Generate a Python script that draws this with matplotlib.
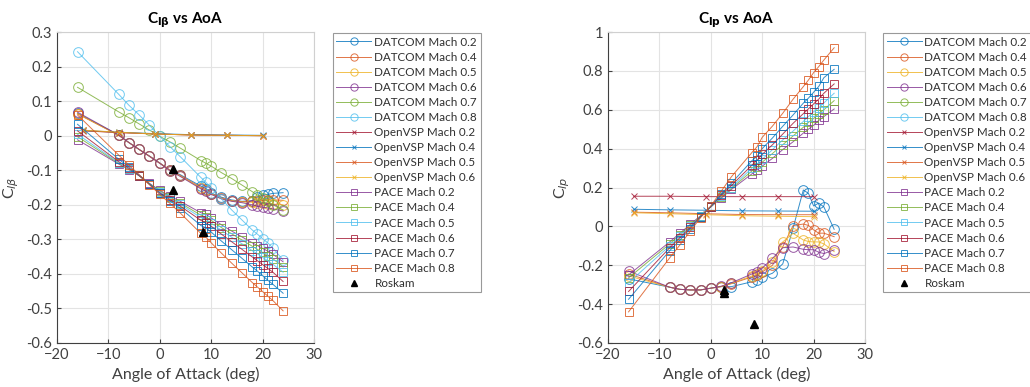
import numpy as np
import matplotlib
matplotlib.use("Agg")
import matplotlib.pyplot as plt

plt.rcParams['font.family'] = ['Lato', 'DejaVu Sans']
plt.rcParams['mathtext.fontset'] = 'dejavusans'

# angle of attack breakpoints
aoa = [-16, -8, -6, -4, -2, 0, 2, 4, 8, 9, 10, 12, 14, 16, 18, 19, 20, 21, 22, 24]
aoa_vsp = [-15, -8, -1, 6, 13, 20]
aoa_roskam = [2.5, 2.5, 8.5]

datcom_labels = ['DATCOM Mach 0.2', 'DATCOM Mach 0.4', 'DATCOM Mach 0.5',
                 'DATCOM Mach 0.6', 'DATCOM Mach 0.7', 'DATCOM Mach 0.8']
vsp_labels = ['OpenVSP Mach 0.2', 'OpenVSP Mach 0.4', 'OpenVSP Mach 0.5', 'OpenVSP Mach 0.6']
pace_labels = ['PACE Mach 0.2', 'PACE Mach 0.4', 'PACE Mach 0.5',
               'PACE Mach 0.6', 'PACE Mach 0.7', 'PACE Mach 0.8']

# ---- C_l_beta ----
clb_datcom = [
    [0.065, 0.002, -0.020, -0.040, -0.059, -0.079, -0.100, -0.113, -0.146, -0.153, -0.166, -0.178, -0.186, -0.190, -0.188, -0.178, -0.172, -0.170, -0.167, -0.165],
    [0.063, 0.001, -0.020, -0.040, -0.059, -0.079, -0.100, -0.115, -0.150, -0.156, -0.168, -0.180, -0.188, -0.191, -0.190, -0.188, -0.187, -0.186, -0.186, -0.187],
    [0.064, 0.001, -0.020, -0.040, -0.060, -0.080, -0.101, -0.117, -0.152, -0.157, -0.169, -0.182, -0.189, -0.192, -0.193, -0.195, -0.196, -0.197, -0.198, -0.200],
    [0.068, 0.002, -0.020, -0.040, -0.060, -0.080, -0.102, -0.118, -0.154, -0.160, -0.170, -0.183, -0.190, -0.194, -0.200, -0.204, -0.207, -0.209, -0.212, -0.218],
    [0.140, 0.069, 0.052, 0.034, 0.016, -0.002, -0.018, -0.036, -0.072, -0.080, -0.088, -0.107, -0.124, -0.143, -0.162, -0.172, -0.180, -0.190, -0.200, -0.215],
    [0.243, 0.120, 0.088, 0.060, 0.030, -0.002, -0.032, -0.061, -0.121, -0.135, -0.152, -0.183, -0.215, -0.244, -0.273, -0.285, -0.298, -0.310, -0.325, -0.360],
]
clb_vsp = [
    [0.014, 0.009, 0.005, 0.002, 0.001, 0.000],
    [0.015, 0.010, 0.006, 0.003, 0.002, 0.001],
    [0.015, 0.009, 0.005, 0.002, 0.001, 0.000],
    [0.016, 0.010, 0.005, 0.002, 0.001, 0.000],
]
clb_pace = [
    [-0.012, -0.082, -0.098, -0.115, -0.138, -0.158, -0.175, -0.190, -0.223, -0.228, -0.238, -0.258, -0.276, -0.293, -0.310, -0.318, -0.326, -0.334, -0.343, -0.365],
    [-0.003, -0.080, -0.097, -0.116, -0.139, -0.160, -0.178, -0.195, -0.230, -0.236, -0.245, -0.266, -0.284, -0.302, -0.320, -0.329, -0.338, -0.347, -0.356, -0.380],
    [0.004, -0.078, -0.096, -0.116, -0.140, -0.162, -0.181, -0.199, -0.237, -0.243, -0.253, -0.274, -0.294, -0.313, -0.333, -0.342, -0.352, -0.362, -0.372, -0.395],
    [0.014, -0.075, -0.094, -0.116, -0.141, -0.165, -0.185, -0.204, -0.245, -0.252, -0.262, -0.285, -0.307, -0.329, -0.351, -0.362, -0.373, -0.384, -0.395, -0.422],
    [0.033, -0.068, -0.090, -0.114, -0.140, -0.167, -0.189, -0.210, -0.260, -0.267, -0.279, -0.305, -0.330, -0.355, -0.380, -0.392, -0.405, -0.418, -0.430, -0.456],
    [0.060, -0.056, -0.085, -0.113, -0.142, -0.170, -0.196, -0.224, -0.283, -0.294, -0.310, -0.340, -0.369, -0.397, -0.425, -0.438, -0.451, -0.464, -0.477, -0.507],
]
clb_roskam = [-0.097, -0.158, -0.280]

# ---- C_l_p ----  (DATCOM Mach 0.7 / 0.8 give no Clp)
nan = np.nan
clp_datcom = [
    [-0.270, -0.313, -0.324, -0.327, -0.327, -0.318, -0.310, -0.310, -0.285, -0.275, -0.262, -0.241, -0.193, -0.010, 0.187, 0.170, 0.105, 0.120, 0.100, -0.015],
    [-0.245, -0.313, -0.324, -0.327, -0.327, -0.318, -0.310, -0.295, -0.260, -0.250, -0.235, -0.200, -0.105, 0.004, 0.012, 0.005, -0.018, -0.035, -0.035, -0.053],
    [-0.255, -0.313, -0.324, -0.327, -0.327, -0.318, -0.310, -0.293, -0.255, -0.245, -0.230, -0.185, -0.080, -0.036, -0.070, -0.078, -0.080, -0.080, -0.090, -0.130],
    [-0.230, -0.313, -0.324, -0.327, -0.327, -0.318, -0.308, -0.290, -0.245, -0.235, -0.215, -0.165, -0.110, -0.106, -0.118, -0.120, -0.120, -0.133, -0.140, -0.121],
    [nan] * 20,
    [nan] * 20,
]
clp_vsp = [
    [0.155, 0.155, 0.153, 0.153, 0.153, 0.153],
    [0.088, 0.085, 0.083, 0.080, 0.079, 0.078],
    [0.073, 0.070, 0.065, 0.061, 0.060, 0.060],
    [0.070, 0.065, 0.060, 0.055, 0.052, 0.050],
]
clp_pace = [
    [-0.250, -0.080, -0.035, 0.010, 0.055, 0.100, 0.145, 0.190, 0.270, 0.290, 0.310, 0.350, 0.395, 0.435, 0.480, 0.500, 0.520, 0.545, 0.565, 0.604],
    [-0.265, -0.090, -0.042, 0.005, 0.053, 0.100, 0.150, 0.195, 0.285, 0.305, 0.330, 0.375, 0.420, 0.465, 0.510, 0.535, 0.555, 0.580, 0.600, 0.647],
    [-0.290, -0.100, -0.050, 0.000, 0.052, 0.101, 0.155, 0.200, 0.300, 0.320, 0.345, 0.395, 0.445, 0.490, 0.540, 0.565, 0.590, 0.610, 0.635, 0.685],
    [-0.335, -0.110, -0.058, -0.005, 0.050, 0.102, 0.160, 0.210, 0.315, 0.340, 0.370, 0.420, 0.475, 0.530, 0.580, 0.605, 0.630, 0.655, 0.685, 0.733],
    [-0.375, -0.125, -0.070, -0.012, 0.048, 0.103, 0.165, 0.222, 0.338, 0.360, 0.400, 0.455, 0.515, 0.573, 0.634, 0.660, 0.690, 0.720, 0.765, 0.808],
    [-0.440, -0.162, -0.095, -0.025, 0.045, 0.105, 0.180, 0.255, 0.380, 0.410, 0.458, 0.516, 0.582, 0.654, 0.719, 0.753, 0.791, 0.822, 0.856, 0.919],
]
clp_roskam = [-0.327, -0.344, -0.502]

# MATLAB default colour order
cols = ['#0072BD', '#D95319', '#EDB120', '#7E2F8E', '#77AC30', '#4DBEEE', '#A2142F']
datcom_cols = cols[0:6]
vsp_cols = [cols[6], cols[0], cols[1], cols[2]]
pace_cols = [cols[3], cols[4], cols[5], cols[6], cols[0], cols[1]]


def draw(ax, datcom, vsp, pace, roskam, title, ylab, ylim, yticks):
    for vals, c, lab in zip(datcom, datcom_cols, datcom_labels):
        ax.plot(aoa, vals, '-o', color=c, lw=0.7, ms=7, mfc='none', mew=0.7, label=lab, alpha=0.8)
    for vals, c, lab in zip(vsp, vsp_cols, vsp_labels):
        ax.plot(aoa_vsp, vals, '-x', color=c, lw=0.7, ms=4.5, mew=0.7, label=lab, alpha=0.8)
    for vals, c, lab in zip(pace, pace_cols, pace_labels):
        ax.plot(aoa, vals, '-s', color=c, lw=0.7, ms=6, mfc='none', mew=0.7, label=lab, alpha=0.8)
    ax.plot(aoa_roskam, roskam, '^', color='black', ms=6, ls='none', label='Roskam')

    ax.set_xlim(-20, 30)
    ax.set_xticks([-20, -10, 0, 10, 20, 30])
    ax.set_ylim(*ylim)
    ax.set_yticks(yticks)
    ax.set_yticklabels([f'{t:g}' for t in yticks])
    ax.grid(color='#e3e3e3', lw=0.8)
    ax.set_axisbelow(True)
    ax.tick_params(direction='in', labelsize=10.5, colors='#404040', length=3)
    for side in ['top', 'right']:
        ax.spines[side].set_color('#d0d0d0')
    for side in ['left', 'bottom']:
        ax.spines[side].set_color('#404040')
    ax.set_xlabel('Angle of Attack (deg)', fontsize=11.5, color='#404040')
    ax.set_ylabel(ylab, fontsize=11.5, color='#404040')
    ax.set_title(title, fontsize=11, fontweight='bold', color='black')


fig = plt.figure(figsize=(10.3, 3.87), dpi=100)
ax1 = fig.add_axes([0.0553, 0.1137, 0.2495, 0.8036])
ax2 = fig.add_axes([0.5903, 0.1137, 0.2495, 0.8036])

draw(ax1, clb_datcom, clb_vsp, clb_pace, clb_roskam,
     r'C$_{\mathbf{l\beta}}$ vs AoA', r'C$_{l\beta}$', (-0.6, 0.3),
     [-0.6, -0.5, -0.4, -0.3, -0.2, -0.1, 0, 0.1, 0.2, 0.3])
draw(ax2, clp_datcom, clp_vsp, clp_pace, clp_roskam,
     r'C$_{\mathbf{lp}}$ vs AoA', r'C$_{lp}$', (-0.6, 1.0),
     [-0.6, -0.4, -0.2, 0, 0.2, 0.4, 0.6, 0.8, 1])

# legends sit to the right of each axes
for ax, x0 in [(ax1, 0.3233), (ax2, 0.8573)]:
    leg = ax.legend(loc='upper left', bbox_to_anchor=(x0, 0.9147), bbox_transform=fig.transFigure,
                    fontsize=8.4, frameon=True, fancybox=False, borderaxespad=0,
                    handlelength=3.0, handletextpad=0.25, labelspacing=0.35,
                    borderpad=0.3, markerscale=0.75)
    leg.get_frame().set_edgecolor('#808080')
    leg.get_frame().set_linewidth(0.8)
    for t in leg.get_texts():
        t.set_color('#303030')

fig.savefig('out.png', dpi=100)
